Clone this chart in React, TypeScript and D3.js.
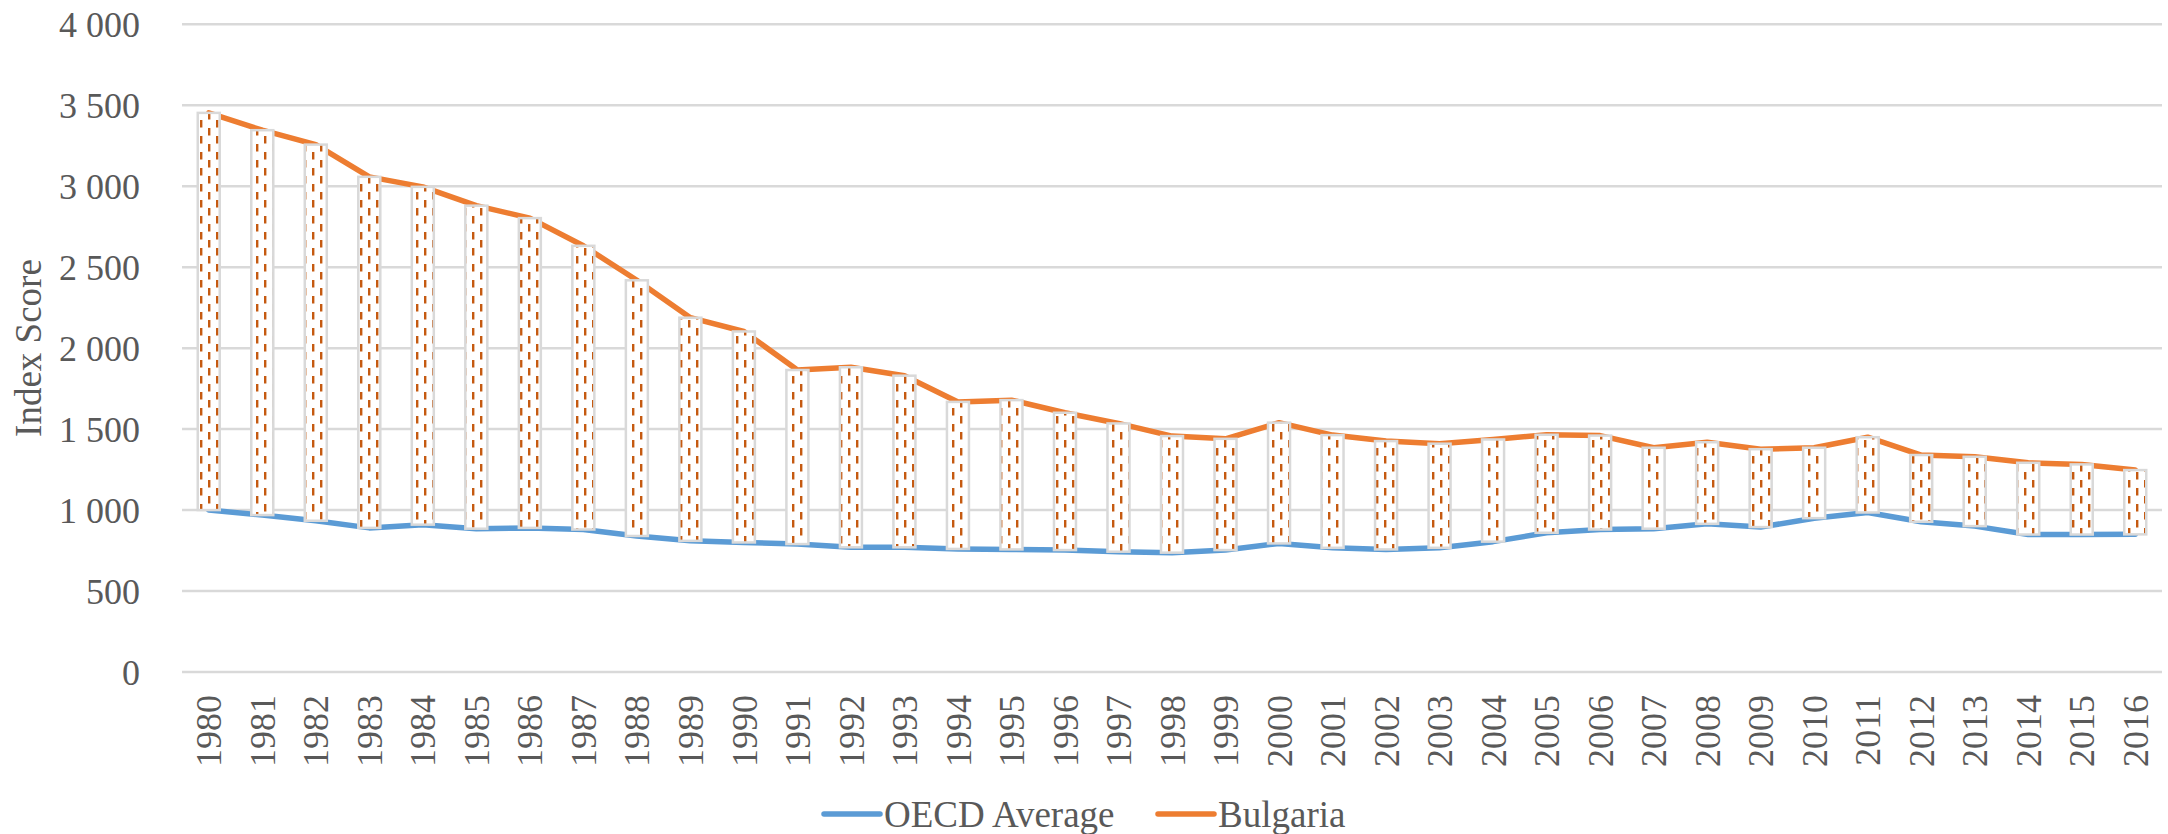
import React, { useEffect, useRef } from "react";
import * as d3 from "d3";

const years = d3.range(1980, 2017).map(String);

const oecdAverage = [
  1000, 969, 934, 890, 910, 885, 890, 880, 840, 810, 800, 790, 770, 770, 760,
  757, 753, 743, 737, 753, 794, 767, 757, 767, 805, 860, 880, 885, 915, 895,
  950, 985, 928, 901, 849, 849, 850,
];

const bulgaria = [
  3453, 3346, 3257, 3058, 2996, 2880, 2803, 2632, 2419, 2188, 2103, 1865, 1882,
  1830, 1668, 1679, 1601, 1535, 1457, 1440, 1540, 1463, 1426, 1410, 1436, 1465,
  1460, 1385, 1419, 1376, 1385, 1450, 1340, 1329, 1292, 1282, 1247,
];

const yTicks = [0, 500, 1000, 1500, 2000, 2500, 3000, 3500, 4000];

const seriesNames = ["OECD Average", "Bulgaria"];
const seriesColors = ["#5B9BD5", "#ED7D31"];

const FONT = "'Liberation Serif', 'Times New Roman', serif";
const TEXT = "#595959";

export default function App() {
  const ref = useRef<SVGSVGElement>(null);

  useEffect(() => {
    document.body.style.margin = "0";

    const width = 2168;
    const height = 834;
    const left = 182;
    const right = 2162;
    const top = 24.3;
    const bottom = 672;

    const svg = d3.select(ref.current);
    svg.selectAll("*").remove(); // Clear

    svg.attr("width", width).attr("height", height);

    // dashed vertical fill of the up/down bars
    const pat = svg
      .append("defs")
      .append("pattern")
      .attr("id", "dashVert")
      .attr("patternUnits", "userSpaceOnUse")
      .attr("width", 16)
      .attr("height", 16);
    pat.append("rect").attr("width", 16).attr("height", 16).attr("fill", "#fff");
    pat
      .append("rect")
      .attr("x", 0)
      .attr("y", 0)
      .attr("width", 2.4)
      .attr("height", 7.5)
      .attr("fill", "#C55A11");
    pat
      .append("rect")
      .attr("x", 8)
      .attr("y", 8)
      .attr("width", 2.4)
      .attr("height", 7.5)
      .attr("fill", "#C55A11");

    const x = d3.scaleBand().domain(years).range([left, right]);
    const y = d3.scaleLinear().domain([0, 4000]).range([bottom, top]);
    const cx = (d: string) => x(d)! + x.bandwidth() / 2;

    // gridlines
    svg
      .append("g")
      .selectAll("line")
      .data(yTicks)
      .enter()
      .append("line")
      .attr("x1", left)
      .attr("x2", right)
      .attr("y1", (d) => y(d))
      .attr("y2", (d) => y(d))
      .attr("stroke", "#D9D9D9")
      .attr("stroke-width", 2.5);

    // y tick labels
    svg
      .append("g")
      .selectAll("text")
      .data(yTicks)
      .enter()
      .append("text")
      .attr("x", 140)
      .attr("y", (d) => y(d))
      .attr("dy", "0.35em")
      .attr("text-anchor", "end")
      .style("font-family", FONT)
      .style("font-size", "36px")
      .attr("fill", TEXT)
      .text((d) => d3.format(",")(d).replace(",", " "));

    // y axis title
    svg
      .append("text")
      .attr("transform", `translate(28,348) rotate(-90)`)
      .attr("dy", "0.35em")
      .attr("text-anchor", "middle")
      .style("font-family", FONT)
      .style("font-size", "37px")
      .attr("fill", TEXT)
      .text("Index Score");

    // x labels
    svg
      .append("g")
      .selectAll("text")
      .data(years)
      .enter()
      .append("text")
      .attr("transform", (d) => `translate(${cx(d)},695) rotate(-90)`)
      .attr("dy", "0.35em")
      .attr("text-anchor", "end")
      .style("font-family", FONT)
      .style("font-size", "36px")
      .attr("fill", TEXT)
      .text((d) => d);

    // lines
    const line = d3
      .line<number>()
      .x((_, i) => cx(years[i]))
      .y((d) => y(d));

    [oecdAverage, bulgaria].forEach((series, k) => {
      svg
        .append("path")
        .attr("d", line(series))
        .attr("fill", "none")
        .attr("stroke", seriesColors[k])
        .attr("stroke-width", 5.5)
        .attr("stroke-linejoin", "round")
        .attr("stroke-linecap", "round");
    });

    // up/down bars
    const barW = 22;
    svg
      .append("g")
      .selectAll("rect")
      .data(years)
      .enter()
      .append("rect")
      .attr("x", (d) => cx(d) - barW / 2)
      .attr("y", (_, i) => y(Math.max(bulgaria[i], oecdAverage[i])))
      .attr("width", barW)
      .attr(
        "height",
        (_, i) => Math.abs(y(oecdAverage[i]) - y(bulgaria[i]))
      )
      .attr("fill", "url(#dashVert)")
      .attr("stroke", "#D9D9D9")
      .attr("stroke-width", 2.5);

    // legend
    const legendX = [824, 1158];
    const lg = svg
      .append("g")
      .selectAll("g")
      .data(seriesNames)
      .enter()
      .append("g")
      .attr("transform", (_, i) => `translate(${legendX[i]},814)`);
    lg.append("line")
      .attr("x1", 0)
      .attr("x2", 56)
      .attr("stroke", (_, i) => seriesColors[i])
      .attr("stroke-width", 5.5)
      .attr("stroke-linecap", "round");
    lg.append("text")
      .attr("x", 60)
      .attr("dy", "0.35em")
      .style("font-family", FONT)
      .style("font-size", "37px")
      .attr("fill", TEXT)
      .text((d) => d);
  }, []);

  return <svg ref={ref} style={{ display: "block" }}></svg>;
}
